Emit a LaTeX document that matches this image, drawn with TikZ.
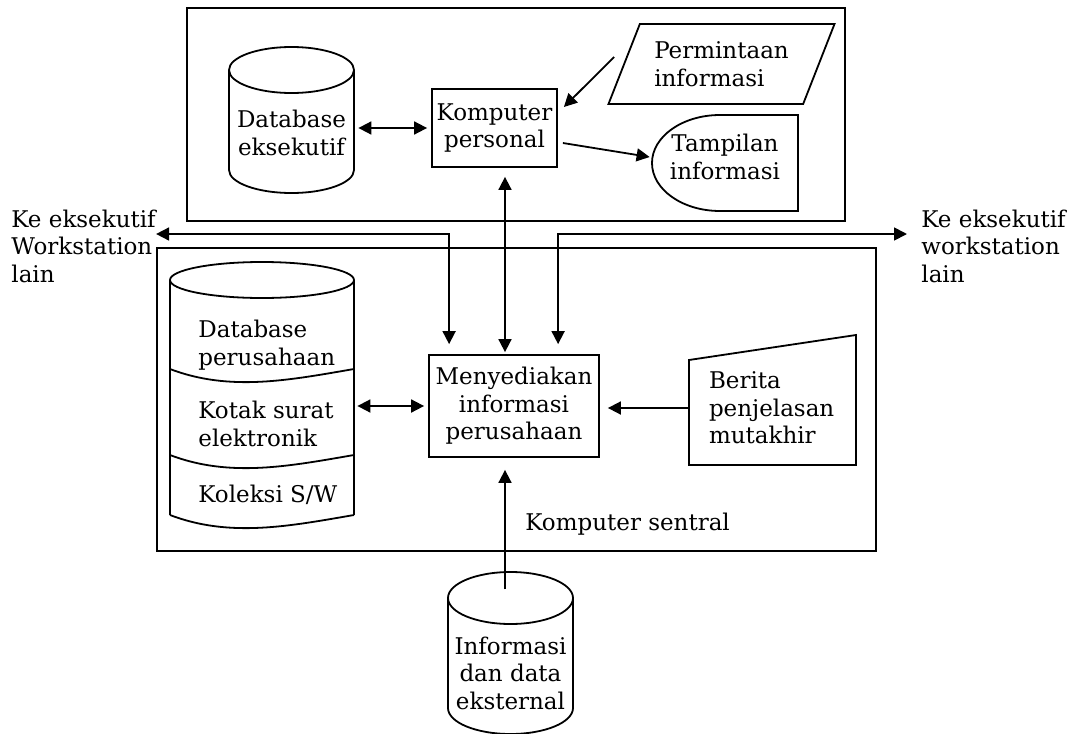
\documentclass[tikz,border=0pt]{standalone}
\usepackage{fontspec}
\setmainfont{DejaVu Serif}
\usetikzlibrary{shapes.geometric,positioning,arrows.meta}
\tikzstyle{proses} = [rectangle, draw=black, line width=0.9pt, inner sep=0pt, align=center]
\tikzstyle{io} = [trapezium, trapezium left angle=60, trapezium right angle=120, trapezium stretches=true, draw=black, line width=0.9pt, inner sep=0pt, align=left]
\tikzstyle{teks} = [inner sep=0pt, align=center]
\tikzstyle{teksl} = [inner sep=0pt, align=left]
\tikzstyle{garis} = [line width=0.9pt]
\tikzstyle{arrow} = [line width=0.9pt, -{Triangle[length=6.5pt,width=6.5pt]}]
\tikzstyle{darrow} = [line width=0.9pt, {Triangle[length=6.5pt,width=6.5pt]}-{Triangle[length=6.5pt,width=6.5pt]}]
\begin{document}
\begin{tikzpicture}[x=0.5pt, y=-0.5pt, font=\fontsize{11.5}{13.75}\selectfont]
\useasboundingbox (0,0) rectangle (1067,734);
% kotak luar
\draw [garis] (187,8) rectangle (845,221);
\draw [garis] (157,248) rectangle (876,551);

% komputer personal
\node (dbeks) [teks, minimum width=62.5pt] at (291.5,133) {Database\\eksekutif};
\node (kp) [proses, minimum width=62.5pt, minimum height=39pt] at (494.5,128) {Komputer\\personal};
\node (minta) [io, minimum width=113.5pt, minimum height=40pt] at (721.5,64) {Permintaan\\informasi};
\node (tampil) [teks, minimum width=73pt] at (725,157) {Tampilan\\informasi};

% komputer sentral
\node (mp) [proses, minimum width=85pt, minimum height=51pt] at (514,406) {Menyediakan\\informasi\\perusahaan};
\node (berita) [teksl, text width=63.5pt, inner xsep=10pt] at (772.5,408) {Berita\\penjelasan\\mutakhir};
\node (dbpusat) [minimum width=92pt, minimum height=120pt, inner sep=0pt] at (262,400) {};
\node (dbper) [teksl, anchor=west] at (198,345) {Database\\perusahaan};
\node (kotak) [teksl, anchor=west] at (198,424) {Kotak surat\\elektronik};
\node (koleksi) [teksl, anchor=base west] at (198,502) {Koleksi S/W};
\node (sentral) [teksl, anchor=base west] at (525,530) {Komputer sentral};
\node (infoext) [teks, minimum width=62.5pt] at (510.5,673) {Informasi\\dan data\\eksternal};

\node (lblkiri) [teksl, anchor=west] at (11,246) {Ke eksekutif\\Workstation\\lain};
\node (lblkanan) [teksl, anchor=west] at (921,246) {Ke eksekutif\\workstation\\lain};

% bentuk
\draw [garis] (291.5,70) ellipse [x radius=31.25pt, y radius=11.5pt];
\draw [garis] (229,70) -- (229,170) arc [start angle=180, end angle=360, x radius=31.25pt, y radius=11.5pt] -- (354,70);
\draw [garis] (798,115) -- (720,115) arc [start angle=90, end angle=270, x radius=34pt, y radius=24pt] -- (798,211) -- cycle;
\draw [garis] (689,360) -- (856,335) -- (856,465) -- (689,465) -- cycle;
\draw [garis] (262,280) ellipse [x radius=46pt, y radius=9pt];
\draw [garis] (170,280) -- (170,515);
\draw [garis] (354,280) -- (354,515);
\foreach \dy in {0,86,146}
  \draw [garis] (170,369+\dy) .. controls (230,392+\dy) and (290,380+\dy) .. (354,369+\dy);
\draw [garis] (510.5,598) ellipse [x radius=31.25pt, y radius=13pt];
\draw [garis] (448,598) -- (448,708) arc [start angle=180, end angle=360, x radius=31.25pt, y radius=13pt] -- (573,598);

% panah
\draw [darrow, shorten <=2pt, shorten >=2pt] (dbeks.east |- kp.west) -- (kp.west);
\draw [arrow] ([shift={(-4.5pt,3.5pt)}]minta.left side) -- ([shift={(3pt,10.5pt)}]kp.east);
\draw [arrow] ([shift={(2.5pt,-7.5pt)}]kp.east) -- ([xshift=-1pt]tampil.west);
\draw [darrow, shorten <=4.5pt, shorten >=1pt] ([xshift=5.25pt]kp.south) -- ([xshift=5.25pt]kp.south |- mp.north);
\draw [darrow, shorten <=5pt] ([xshift=10.5pt]mp.north west) |- ([yshift=6pt]lblkiri.east);
\draw [darrow, shorten <=5pt, shorten >=7pt] ([xshift=65pt]mp.north west) |- ([yshift=6pt]lblkanan.west);
\draw [arrow, shorten >=4pt] (berita.west) -- (mp.east |- berita.west);
\draw [darrow, shorten <=1.5pt, shorten >=2pt] (dbpusat.east |- mp.west) -- (mp.west);
\draw [arrow, shorten >=6pt] ([xshift=-2.75pt,yshift=23.4pt]infoext.north) -- ([xshift=-2.75pt]infoext.north |- mp.south);
\end{tikzpicture}
\end{document}
